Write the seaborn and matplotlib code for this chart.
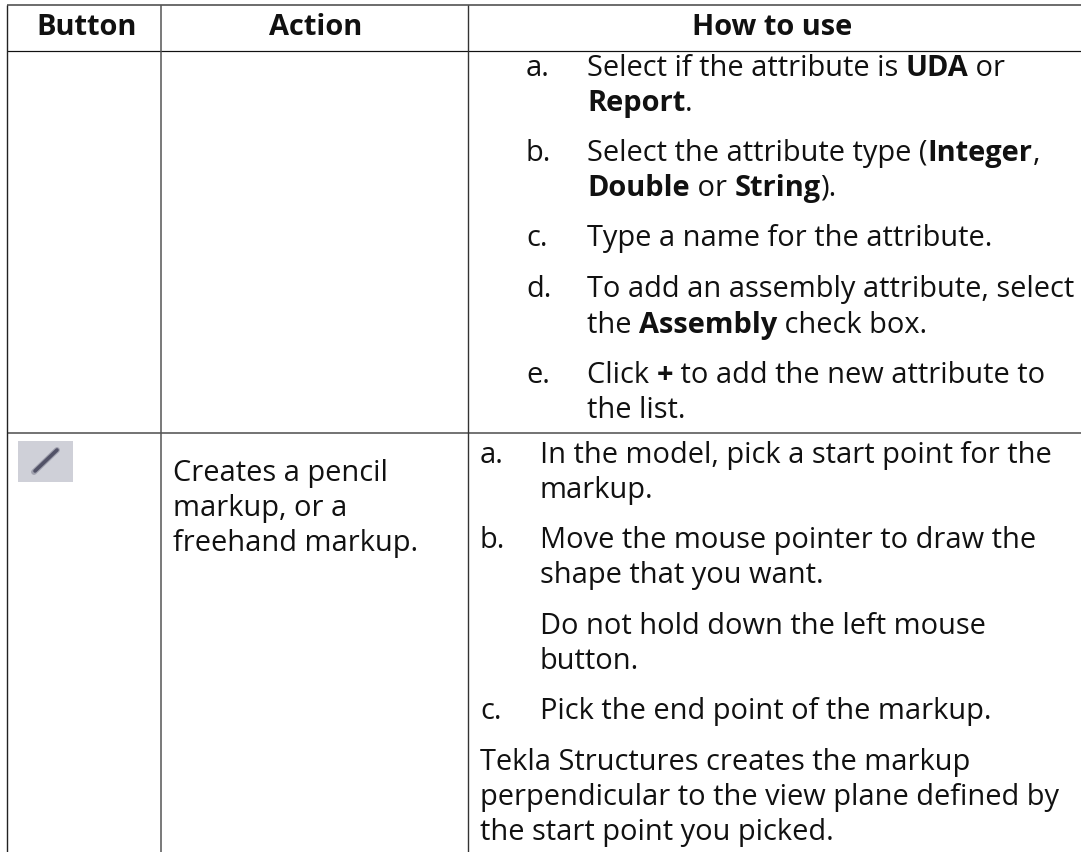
import matplotlib
matplotlib.use("Agg")
import matplotlib.pyplot as plt
from matplotlib.patches import Rectangle
import seaborn as sns

W, H = 1081, 852
FONT = "Open Sans"
SIZE = 20.9
INK = "#111111"

headers = ["Button", "Action", "How to use"]
header_x = [87, 316, 772]
header_y = 35

letters = ["a.", "b.", "c.", "d.", "e.", "a.", "b.", "c."]
letter_x = [526, 526, 526, 526, 526, 480, 480, 480]
letter_y = [76, 161, 246, 297, 383, 463, 548, 719]

# each body line: baseline y, x, runs of (text, bold)
body_lines = [
    (76, 587, [("Select if the attribute is ", 0), ("UDA", 1), (" or", 0)]),
    (111, 587, [("Report", 1), (".", 0)]),
    (161, 587, [("Select the attribute type (", 0), ("Integer", 1), (",", 0)]),
    (196, 587, [("Double", 1), (" or ", 0), ("String", 1), (").", 0)]),
    (246, 587, [("Type a name for the attribute.", 0)]),
    (297, 587, [("To add an assembly attribute, select", 0)]),
    (333, 587, [("the ", 0), ("Assembly", 1), (" check box.", 0)]),
    (383, 587, [("Click ", 0), ("+", 1), (" to add the new attribute to", 0)]),
    (418, 587, [("the list.", 0)]),
    (463, 540, [("In the model, pick a start point for the", 0)]),
    (498, 540, [("markup.", 0)]),
    (548, 540, [("Move the mouse pointer to draw the", 0)]),
    (583, 540, [("shape that you want.", 0)]),
    (634, 540, [("Do not hold down the left mouse", 0)]),
    (669, 540, [("button.", 0)]),
    (719, 540, [("Pick the end point of the markup.", 0)]),
    (770, 480, [("Tekla Structures creates the markup", 0)]),
    (805, 480, [("perpendicular to the view plane defined by", 0)]),
    (840, 480, [("the start point you picked.", 0)]),
]

action_lines = ["Creates a pencil", "markup, or a", "freehand markup."]
action_y = [481, 516, 551]

col_x = [7, 161, 468]
rule_y = [5, 51, 433]
rule_color = ["#6f6f6f", "#111111", "#555555"]
rule_width = [2.0, 1.2, 1.6]


def draw_runs(ax, x, y, runs):
    for txt, bold in runs:
        t = ax.text(x, y, txt, fontsize=SIZE, family=FONT, color=INK,
                    fontweight="bold" if bold else "normal", va="baseline", parse_math=False)
        x += t.get_window_extent().width


sns.set_theme(style="white")
fig, ax = plt.subplots(figsize=(W / 100, H / 100), dpi=100)
fig.subplots_adjust(0, 0, 1, 1)
ax.set_xlim(0, W)
ax.set_ylim(H, 0)
ax.axis("off")

for y, c, lw in zip(rule_y, rule_color, rule_width):
    ax.hlines(y, col_x[0], W, color=c, linewidth=lw * 0.72)
ax.vlines(col_x[0], rule_y[0], H, color="#222222", linewidth=1.0)
ax.vlines(col_x[1], rule_y[0], H, color="#555555", linewidth=1.1)
ax.vlines(col_x[2], rule_y[0], H, color="#333333", linewidth=1.0)

for label, x in zip(headers, header_x):
    ax.text(x, header_y, label, fontsize=SIZE, family=FONT, fontweight="bold", ha="center", color=INK)
for y, x, runs in body_lines:
    draw_runs(ax, x, y, runs)
for lab, x, y in zip(letters, letter_x, letter_y):
    ax.text(x, y, lab, fontsize=SIZE, family=FONT, color=INK)
for txt, y in zip(action_lines, action_y):
    ax.text(173, y, txt, fontsize=SIZE, family=FONT, color=INK)

# pencil icon
ax.add_patch(Rectangle((18, 441), 55, 41, color="#cfd0d8", linewidth=0))
ax.plot([34, 57], [472, 450], color="#4a4a60", linewidth=4.2, solid_capstyle="round", alpha=0.35)
ax.plot([35, 57], [471, 450], color="#4a4a60", linewidth=2.6, solid_capstyle="round", alpha=0.9)

fig.savefig("out.png", dpi=100)
